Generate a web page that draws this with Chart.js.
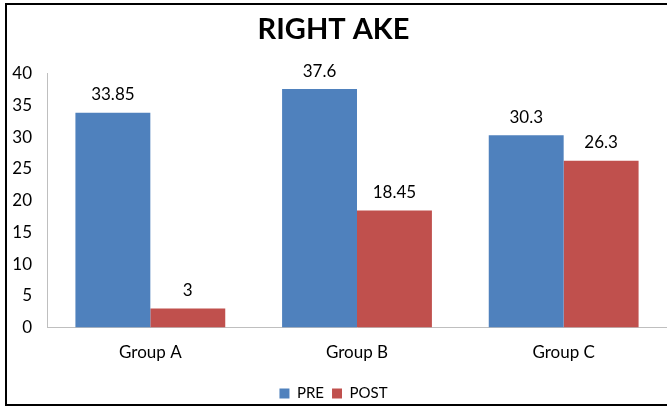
<!DOCTYPE html>
<html>
<head>
<meta charset="utf-8">
<script src="https://cdn.jsdelivr.net/npm/chart.js@4/dist/chart.umd.min.js"></script>
<style>
  html, body { margin: 0; padding: 0; background: #fff; }
  #wrap { width: 667px; height: 407px; position: relative; }
</style>
</head>
<body>
<div id="wrap"><canvas id="akeChart" width="667" height="407"></canvas></div>
<script>
const categories = ['Group A', 'Group B', 'Group C'];
const preValues = [33.85, 37.6, 30.3];
const postValues = [3, 18.45, 26.3];
const yTicks = [0, 5, 10, 15, 20, 25, 30, 35, 40];

// little frame like the pasted excel picture (no right edge)
const framePlugin = {
    id: 'frame',
    beforeDraw(chart) {
        const c = chart.ctx;
        c.save();
        c.fillStyle = '#fff';
        c.fillRect(0, 0, chart.width, chart.height);
        c.strokeStyle = '#000';
        c.lineWidth = 2;
        c.beginPath();
        c.moveTo(chart.width, 4);
        c.lineTo(6, 4);
        c.lineTo(6, 405);
        c.lineTo(chart.width, 405);
        c.stroke();
        c.restore();
    }
};

// value labels over the bars
const valueLabels = {
    id: 'valueLabels',
    afterDatasetsDraw(chart) {
        const c = chart.ctx;
        c.save();
        c.font = '17px Lato';
        c.fillStyle = '#000';
        c.textAlign = 'center';
        c.textBaseline = 'middle';
        chart.data.datasets.forEach((ds, i) => {
            chart.getDatasetMeta(i).data.forEach((bar, j) => {
                c.fillText(String(ds.data[j]), bar.x, bar.y - 18);
            });
        });
        c.restore();
    }
};

const ctx = document.getElementById('akeChart').getContext('2d');
new Chart(ctx, {
    type: 'bar',
    data: {
        labels: categories,
        datasets: [{
            label: 'PRE',
            data: preValues,
            backgroundColor: '#4F81BD',
            borderWidth: 0
        }, {
            label: 'POST',
            data: postValues,
            backgroundColor: '#C0504D',
            borderWidth: 0
        }]
    },
    options: {
        responsive: false,
        animation: false,
        layout: { padding: { left: 0, right: 0, top: 0, bottom: -4 } },
        datasets: {
            bar: { categoryPercentage: 0.725, barPercentage: 1 }
        },
        plugins: {
            title: {
                display: true,
                text: 'RIGHT AKE',
                color: '#000',
                font: { family: 'Lato', size: 29, weight: 'bold' },
                padding: { top: 12, bottom: 27 }
            },
            legend: {
                position: 'bottom',
                labels: {
                    color: '#000',
                    font: { family: 'Lato', size: 15 },
                    boxWidth: 10,
                    boxHeight: 10,
                    padding: 8
                }
            },
            tooltip: { enabled: false }
        },
        scales: {
            x: {
                grid: { display: false, drawTicks: false },
                border: { display: true, color: '#BFBFBF', width: 1 },
                ticks: {
                    color: '#000',
                    font: { family: 'Lato', size: 17 },
                    padding: 15
                }
            },
            y: {
                min: 0,
                max: 40,
                afterBuildTicks: (axis) => {
                    axis.ticks = yTicks.map(v => ({ value: v }));
                },
                afterFit: (axis) => { axis.width = 47; },
                grid: { display: false, drawTicks: false },
                border: { display: true, color: '#BFBFBF', width: 1 },
                ticks: {
                    color: '#000',
                    font: { family: 'Lato', size: 17 },
                    padding: 15
                }
            }
        }
    },
    plugins: [framePlugin, valueLabels]
});
</script>
</body>
</html>
